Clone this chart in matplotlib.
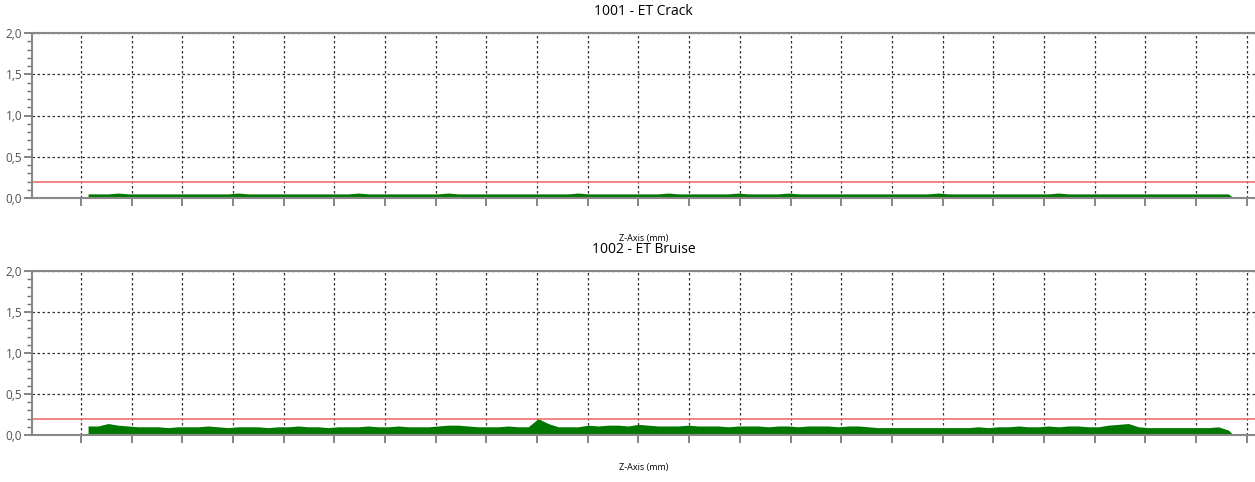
import numpy as np
import matplotlib.pyplot as plt
from matplotlib.ticker import MultipleLocator, FuncFormatter, NullFormatter

plt.rcParams['font.family'] = ['Open Sans', 'DejaVu Sans']

titles = ['1001 - ET Crack', '1002 - ET Bruise']
threshold = 0.2

# sample positions along Z (mm)
z = np.linspace(7, 1132, 115)
z_end = 1137

crack = [0.05, 0.05, 0.05, 0.06, 0.05, 0.05, 0.05, 0.05, 0.05, 0.05,
         0.05, 0.05, 0.05, 0.05, 0.05, 0.06, 0.05, 0.05, 0.05, 0.05,
         0.05, 0.05, 0.05, 0.05, 0.05, 0.05, 0.05, 0.06, 0.05, 0.05,
         0.05, 0.05, 0.05, 0.05, 0.05, 0.05, 0.06, 0.05, 0.05, 0.05,
         0.05, 0.05, 0.05, 0.05, 0.05, 0.05, 0.05, 0.05, 0.05, 0.06,
         0.05, 0.05, 0.05, 0.05, 0.05, 0.05, 0.05, 0.05, 0.06, 0.05,
         0.05, 0.05, 0.05, 0.05, 0.05, 0.06, 0.05, 0.05, 0.05, 0.05,
         0.06, 0.05, 0.05, 0.05, 0.05, 0.05, 0.05, 0.05, 0.05, 0.05,
         0.05, 0.05, 0.05, 0.05, 0.05, 0.06, 0.05, 0.05, 0.05, 0.05,
         0.05, 0.05, 0.05, 0.05, 0.05, 0.05, 0.05, 0.06, 0.05, 0.05,
         0.05, 0.05, 0.05, 0.05, 0.05, 0.05, 0.05, 0.05, 0.05, 0.05,
         0.05, 0.05, 0.05, 0.05, 0.05]

bruise = [0.11, 0.11, 0.14, 0.12, 0.11, 0.10, 0.10, 0.10, 0.09, 0.10,
          0.10, 0.10, 0.11, 0.10, 0.09, 0.10, 0.10, 0.10, 0.09, 0.10,
          0.10, 0.11, 0.10, 0.10, 0.09, 0.10, 0.10, 0.10, 0.11, 0.10,
          0.10, 0.11, 0.10, 0.10, 0.10, 0.11, 0.12, 0.12, 0.11, 0.10,
          0.10, 0.10, 0.11, 0.10, 0.10, 0.20, 0.14, 0.10, 0.10, 0.10,
          0.12, 0.11, 0.12, 0.12, 0.11, 0.13, 0.12, 0.11, 0.11, 0.11,
          0.12, 0.11, 0.11, 0.11, 0.10, 0.11, 0.11, 0.11, 0.10, 0.11,
          0.11, 0.10, 0.11, 0.11, 0.11, 0.10, 0.11, 0.11, 0.10, 0.09,
          0.09, 0.09, 0.09, 0.09, 0.09, 0.09, 0.09, 0.09, 0.09, 0.10,
          0.09, 0.10, 0.10, 0.11, 0.10, 0.10, 0.11, 0.10, 0.11, 0.11,
          0.10, 0.10, 0.12, 0.13, 0.14, 0.10, 0.09, 0.09, 0.09, 0.09,
          0.09, 0.09, 0.09, 0.10, 0.06]

series = [crack, bruise]

fig = plt.figure(figsize=(12.55, 4.82), dpi=100)
W, H = 1255, 482
# left, top, bottom (px) and xlabel pad for each panel
boxes = [(32, 33, 198, 19), (32, 271, 435, 13)]

for (left, top, bottom, lpad), title, vals in zip(boxes, titles, series):
    ax = fig.add_axes([left / W, 1 - bottom / H, 1 - left / W, (bottom - top) / H])
    zz = np.append(z, z_end)
    vv = np.append(vals, 0.0)
    ax.fill_between(zz, 0, vv, color='#007800', linewidth=0)
    ax.axhline(threshold, color='#f07070', linewidth=1.2)

    ax.set_xlim(-48.3, 1158.2)
    ax.set_ylim(0, 2.0)
    ax.xaxis.set_major_locator(MultipleLocator(50))
    ax.xaxis.set_major_formatter(NullFormatter())
    ax.yaxis.set_major_locator(MultipleLocator(0.5))
    ax.yaxis.set_minor_locator(MultipleLocator(0.1))
    ax.yaxis.set_major_formatter(FuncFormatter(lambda v, p: f'{v:.1f}'.replace('.', ',')))

    ax.grid(True, which='major', color='#303030', linestyle=(0, (2, 2)), linewidth=0.9)
    ax.set_axisbelow(True)
    ax.tick_params(axis='both', which='major', length=6, width=1.2, color='#707070',
                   labelsize=8.5, labelcolor='#505050', pad=1)
    ax.tick_params(axis='y', which='minor', length=3.5, width=1, color='#707070')

    for s in ['left', 'bottom', 'top']:
        ax.spines[s].set_color('#888888')
        ax.spines[s].set_linewidth(1.5)
    ax.spines['right'].set_visible(False)

    ax.set_title(title, fontsize=10, pad=13)
    ax.set_xlabel('Z-Axis (mm)', fontsize=6.5, labelpad=lpad)

fig.savefig('out.png', dpi=100)
